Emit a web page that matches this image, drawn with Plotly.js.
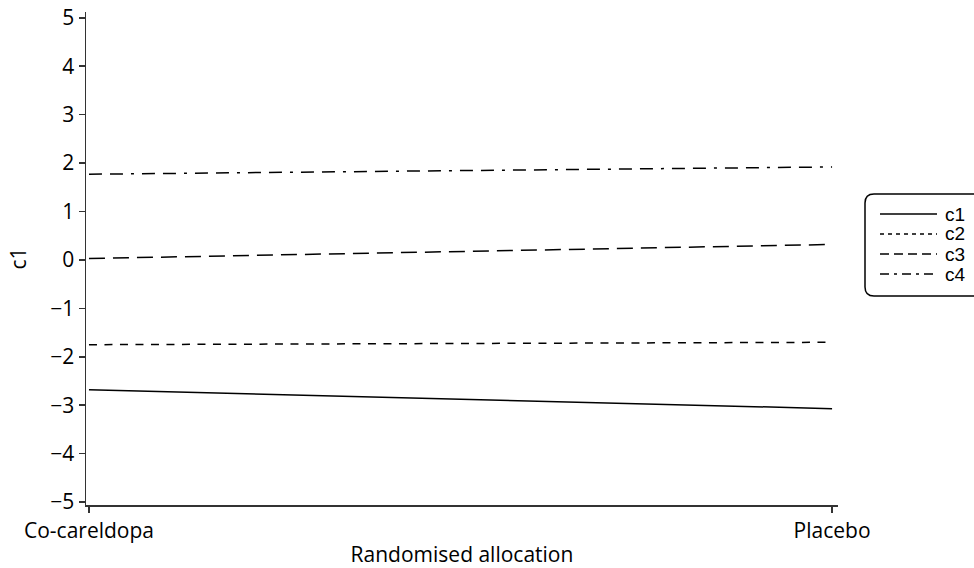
<!DOCTYPE html>
<html>
<head>
<meta charset="utf-8">
<script src="https://cdn.plot.ly/plotly-3.0.1.min.js"></script>
<style>html,body{margin:0;padding:0;background:#fff;}#chart{width:974px;height:568px;}</style>
</head>
<body>
<div id="chart"></div>
<script>
const categories = ['Co-careldopa', 'Placebo'];
const seriesNames = ['c1', 'c2', 'c3', 'c4'];
const c1 = [-2.68, -3.07];
const c2 = [-1.75, -1.70];
const c3 = [0.03, 0.32];
const c4 = [1.77, 1.92];
const yTicks = [-5, -4, -3, -2, -1, 0, 1, 2, 3, 4, 5];

const FONT = 'Open Sans, Noto Sans, sans-serif';
const LFONT = 'Liberation Sans, Arial, sans-serif';
const FS = 21;
const dashes = ['solid', '8px,7.5px', '16px,8px', '13px,8px,13px,8px,3px,8px'];
const legendDashes = ['solid', '4px,4px', '9px,5px', '9px,5px,3px,5px'];
const values = [c1, c2, c3, c4];

const traces = values.map((v, i) => ({
  x: categories, y: v, type: 'scatter', mode: 'lines', name: seriesNames[i],
  showlegend: false,
  line: {color: '#000', width: 1.5, dash: dashes[i]}
}));

const W = 974, H = 568, mL = 86, mR = 136, mT = 12, mB = 63;
const pw = W - mL - mR, ph = H - mT - mB;
function px2x(p){ return (p - mL) / pw; }
function py2y(p){ return (H - mB - p) / ph; }
// rounded legend frame
const bl = 865, bt = 194, br = 990, bb = 296, r = 9;
const path = `M ${px2x(bl+r)} ${py2y(bt)} L ${px2x(br)} ${py2y(bt)} L ${px2x(br)} ${py2y(bb)} L ${px2x(bl+r)} ${py2y(bb)} Q ${px2x(bl)} ${py2y(bb)} ${px2x(bl)} ${py2y(bb-r)} L ${px2x(bl)} ${py2y(bt+r)} Q ${px2x(bl)} ${py2y(bt)} ${px2x(bl+r)} ${py2y(bt)} Z`;

const shapes = [{type: 'path', xref: 'paper', yref: 'paper', path: path,
  line: {color: '#000', width: 1.5}, fillcolor: 'rgba(0,0,0,0)'}];
const annotations = [];
seriesNames.forEach((name, i) => {
  const yy = py2y(214 + 20 * i);
  shapes.push({type: 'line', xref: 'paper', yref: 'paper',
    x0: px2x(880), x1: px2x(937), y0: yy, y1: yy,
    line: {color: '#000', width: 1.5, dash: legendDashes[i]}});
  annotations.push({xref: 'paper', yref: 'paper', x: px2x(944), y: yy,
    xanchor: 'left', yanchor: 'middle', text: name, showarrow: false,
    borderpad: 0,
    font: {family: LFONT, size: 19, color: '#000'}});
});

const layout = {
  width: W, height: H,
  margin: {l: mL, r: mR, t: mT, b: mB},
  paper_bgcolor: '#fff', plot_bgcolor: '#fff',
  font: {family: FONT, size: FS, color: '#000'},
  showlegend: false,
  xaxis: {
    type: 'category', range: [-0.004, 1.008],
    showline: true, linecolor: '#333', linewidth: 1.5,
    ticks: 'outside', ticklen: 6, tickwidth: 1.5, tickcolor: '#333',
    showgrid: false, zeroline: false,
    tickfont: {family: FONT, size: FS, color: '#000'},
    title: {text: 'Randomised allocation', font: {family: FONT, size: FS, color: '#000'}, standoff: 5}
  },
  yaxis: {
    range: [-5.06, 5.12], tickvals: yTicks,
    showline: true, linecolor: '#333', linewidth: 1.5,
    ticks: 'outside', ticklen: 6, tickwidth: 1.5, tickcolor: '#333',
    showgrid: false, zeroline: false,
    tickfont: {family: FONT, size: FS, color: '#000'},
    title: {text: 'c1', font: {family: FONT, size: FS, color: '#000'}, standoff: 18}
  },
  shapes: shapes,
  annotations: annotations
};
Plotly.newPlot('chart', traces, layout, {displayModeBar: false, staticPlot: true});
</script>
</body>
</html>
